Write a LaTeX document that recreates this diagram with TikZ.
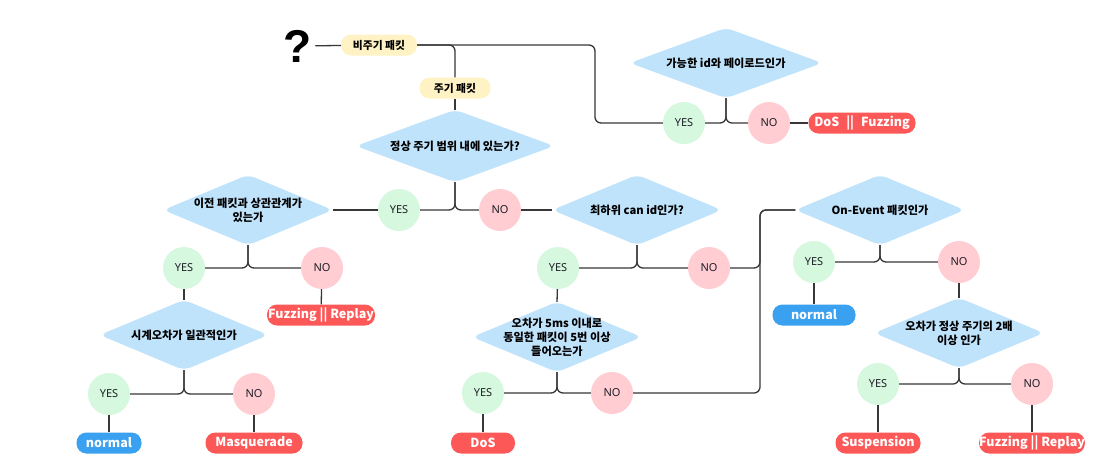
\documentclass[tikz,border=0pt]{standalone}
\usepackage{fontspec}
\setmainfont{Noto Sans CJK KR}
\newfontfamily\krfont{Noto Sans CJK KR}
\newfontfamily\yesfont{Noto Sans}
\newfontfamily\qfont{Liberation Sans}
\usetikzlibrary{calc}
\pgfdeclarelayer{background}
\pgfsetlayers{background,main}
\definecolor{diablue}{RGB}{192,227,252}
\definecolor{yesgreen}{RGB}{214,248,222}
\definecolor{nopink}{RGB}{255,205,210}
\definecolor{pillred}{RGB}{252,88,88}
\definecolor{pillblue}{RGB}{58,160,240}
\definecolor{tagyellow}{RGB}{255,242,196}
\definecolor{linegray}{RGB}{55,55,55}
\definecolor{textdark}{RGB}{30,30,40}
\begin{document}
\begin{tikzpicture}[x=1pt,y=-1pt,
  conn/.style={draw=linegray, line width=1.3pt, rounded corners=6pt},
  dia/.style 2 args={minimum width=#1, minimum height=#2, inner sep=0pt, align=center,
    font=\krfont\bfseries\fontsize{11.2}{14}\selectfont, text=black},
  yesc/.style={circle, fill=yesgreen, minimum size=42pt, inner sep=0pt,
    font=\yesfont\fontsize{11}{12}\selectfont, text=textdark},
  noc/.style={circle, fill=nopink, minimum size=42pt, inner sep=0pt,
    font=\yesfont\fontsize{11}{12}\selectfont, text=textdark},
  pill/.style={rounded corners=10pt, minimum height=21pt, minimum width=#1, inner sep=0pt,
    font=\krfont\bfseries\fontsize{12.5}{13}\selectfont, text=white},
  redpill/.style={pill=#1, fill=pillred},
  bluepill/.style={pill=#1, fill=pillblue},
  tagpill/.style={pill=#1, fill=tagyellow, text=black,
    font=\krfont\bfseries\fontsize{10.8}{12}\selectfont}
]
\useasboundingbox (0,0) rectangle (1115,467);
% question mark and packet tags
\node[font=\qfont\bfseries\fontsize{46}{46}\selectfont, inner sep=3pt] (q) at (298,46) {?};
\node[tagpill=76pt] (p1) at (379,45) {비주기 패킷};
\node[tagpill=71pt] (p2) at (455,88) {주기 패킷};
\coordinate (c1) at (595,0);
\coordinate (c2) at (760,0);
% diamonds
\node[dia={192pt}{70pt}] (d1) at (726,63) {가능한 id와 페이로드인가};
\node[dia={198pt}{72pt}] (d0) at (455,146) {정상 주기 범위 내에 있는가?};
\node[dia={169pt}{70pt}] (d2) at (248,210) {이전 패킷과 상관관계가\\있는가};
\node[dia={169pt}{70pt}] (d3) at (637,210) {최하위 can id인가?};
\node[dia={168pt}{70pt}] (d4) at (184,335) {시계오차가 일관적인가};
\node[dia={169pt}{70pt}] (d5) at (557,337) {오차가 5ms 이내로\\동일한 패킷이 5번 이상\\들어오는가};
\node[dia={169pt}{70pt}] (d6) at (880,210) {On-Event 패킷인가};
\node[dia={169pt}{70pt}] (d7) at (959,333) {오차가 정상 주기의 2배\\이상 인가};
% circles
\node[yesc] (y0) at (684,123) {YES};
\node[noc]  (n0) at (769,123) {NO};
\node[yesc] (y1) at (399,210) {YES};
\node[noc]  (n1) at (500,210) {NO};
\node[yesc] (y2) at (184,268) {YES};
\node[noc]  (n2) at (322,268) {NO};
\node[yesc] (y3) at (109,394) {YES};
\node[noc]  (n3) at (254,394) {NO};
\node[yesc] (y4) at (558,268) {YES};
\node[noc]  (n4) at (709,268) {NO};
\node[yesc] (y5) at (483,393) {YES};
\node[noc]  (n5) at (612,393) {NO};
\node[yesc] (y6) at (814,262) {YES};
\node[noc]  (n6) at (959,262) {NO};
\node[yesc] (y7) at (878,384) {YES};
\node[noc]  (n7) at (1032,384) {NO};
% results
\node[redpill=107pt] (r0) at (862,123) {DoS\hspace{7pt}||\hspace{7pt}Fuzzing};
\node[redpill=108pt] (r1) at (321,315) {Fuzzing || Replay};
\node[bluepill=65pt] (b1) at (109,443) {normal};
\node[redpill=97pt]  (r2) at (254,443) {Masquerade};
\node[redpill=64pt]  (r3) at (483,443) {DoS};
\node[bluepill=83pt] (b2) at (814,315) {normal};
\node[redpill=85pt]  (r4) at (878,443) {Suspension};
\node[redpill=105pt] (r5) at (1032,443) {Fuzzing || Replay};
% background
\begin{pgfonlayer}{background}
\fill[white] (0,0) rectangle (1115,467);
\foreach \d in {d0,d1,d2,d3,d4,d5,d6,d7}
  \fill[diablue, rounded corners=7pt] (\d.north) -- (\d.east) -- (\d.south) -- (\d.west) -- cycle;
\end{pgfonlayer}
% connectors
\draw[conn] (q) -- (p1);
\draw[conn] (p1.east) -| (p2.north);
\draw[conn] (p1.east) -- (c1 |- p1.east) -- (c1 |- y0) -- (y0);
\draw[conn] (p2) -- (d0.north);
\draw[conn] (d1.south) |- (y0);
\draw[conn] (d1.south) |- (n0);
\draw[conn] (n0) -- (r0);
\draw[conn] (d0.south) |- (y1);
\draw[conn] (d0.south) |- (n1);
\draw[conn] (y1) -- (d2.east);
\draw[conn] (n1) -- (d3.west);
\draw[conn] (d2.south) |- (y2);
\draw[conn] (d2.south) |- (n2);
\draw[conn] (n2) -- (r1);
\draw[conn] (y2) -- (d4.north);
\draw[conn] (d4.south) |- (y3);
\draw[conn] (d4.south) |- (n3);
\draw[conn] (y3) -- (b1);
\draw[conn] (n3) -- (r2);
\draw[conn] (d3.south) |- (y4);
\draw[conn] (d3.south) |- (n4);
\draw[conn] (y4) -- (d5.north);
\draw[conn] (n4) -- (c2 |- n4) -- (c2 |- d6.west) -- (d6.west);
\draw[conn] (d5.south) |- (y5);
\draw[conn] (d5.south) |- (n5);
\draw[conn] (y5) -- (r3);
\draw[conn] (n5) -- (c2 |- n5) -- (c2 |- d6.west) -- (d6.west);
\draw[conn] (d6.south) |- (y6);
\draw[conn] (d6.south) |- (n6);
\draw[conn] (y6) -- (b2);
\draw[conn] (n6) -- (d7.north);
\draw[conn] (d7.south) |- (y7);
\draw[conn] (d7.south) |- (n7);
\draw[conn] (y7) -- (r4);
\draw[conn] (n7) -- (r5);
\end{tikzpicture}
\end{document}
